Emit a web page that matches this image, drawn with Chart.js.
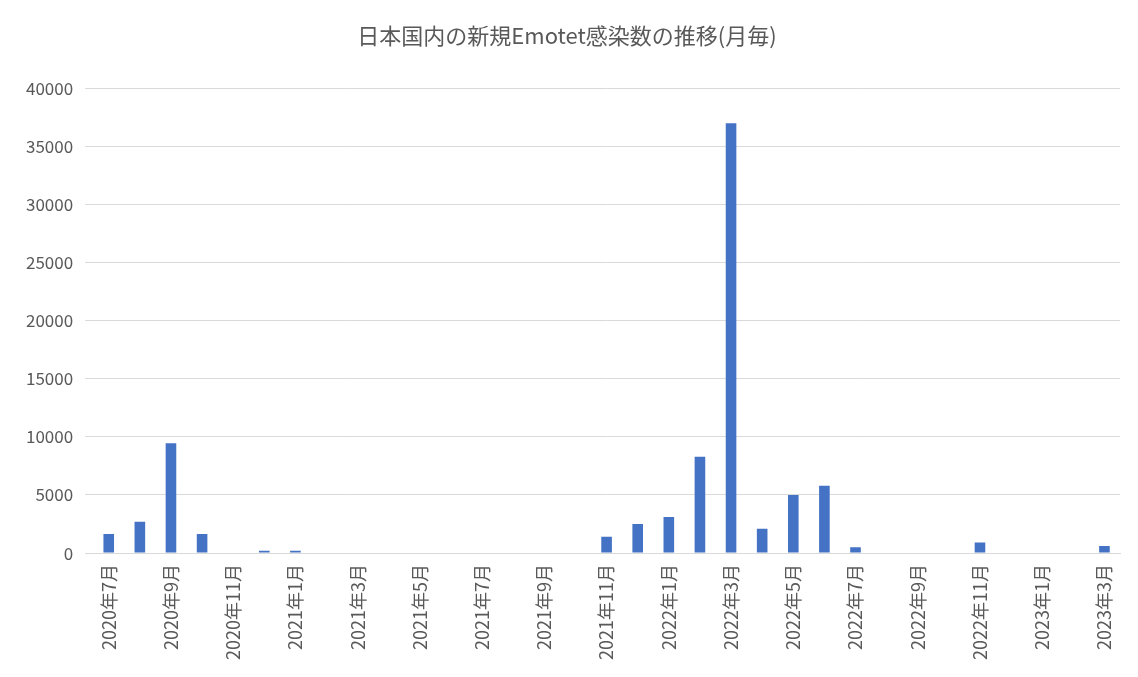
<!DOCTYPE html>
<html><head><meta charset="utf-8">
<script src="https://cdn.jsdelivr.net/npm/chart.js@4"></script>
<style>body{margin:0;background:#fff}#w{width:1138px;height:677px}</style>
</head><body><div id="w"><canvas id="c"></canvas></div>
<script>
const categories = ["2020年7月","2020年8月","2020年9月","2020年10月","2020年11月","2020年12月",
"2021年1月","2021年2月","2021年3月","2021年4月","2021年5月","2021年6月","2021年7月","2021年8月","2021年9月","2021年10月","2021年11月","2021年12月",
"2022年1月","2022年2月","2022年3月","2022年4月","2022年5月","2022年6月","2022年7月","2022年8月","2022年9月","2022年10月","2022年11月","2022年12月",
"2023年1月","2023年2月","2023年3月"];
const infections = [1650,2700,9450,1650,0,200,200,0,0,0,0,0,0,0,0,0,1400,2500,3100,8300,37000,2100,5000,5800,500,0,0,0,900,0,0,0,600];
const yTicks = [0,5000,10000,15000,20000,25000,30000,35000,40000];
const F = "'Noto Sans CJK JP', sans-serif";
new Chart(document.getElementById('c'), {
  type: 'bar',
  data: { labels: categories, datasets: [{ data: infections, backgroundColor: '#4472C4', barPercentage: 0.62, categoryPercentage: 0.55 }] },
  options: {
    responsive: true, maintainAspectRatio: false, animation: false,
    layout: { padding: { left: 14, right: 18, top: 10, bottom: 14 } },
    plugins: { legend: { display: false }, tooltip: { enabled: false },
      title: { display: true, text: '日本国内の新規Emotet感染数の推移(月毎)', color: '#595959', font: { family: F, size: 22, weight: 'normal' }, padding: { top: 12, bottom: 40 } } },
    scales: {
      x: { grid: { display: false }, border: { color: '#d9d9d9' },
        ticks: { autoSkip: false, maxRotation: 90, minRotation: 90, color: '#595959', font: { family: F, size: 18 },
          callback: (v, i) => i % 2 === 0 ? categories[i] : '' } },
      y: { min: 0, max: 40000, afterBuildTicks: a => { a.ticks = yTicks.map(v => ({ value: v })); },
        grid: { color: '#d9d9d9' }, border: { display: false },
        ticks: { color: '#595959', font: { family: F, size: 17 }, padding: 12, callback: v => String(v) } }
    }
  }
});
</script></body></html>
